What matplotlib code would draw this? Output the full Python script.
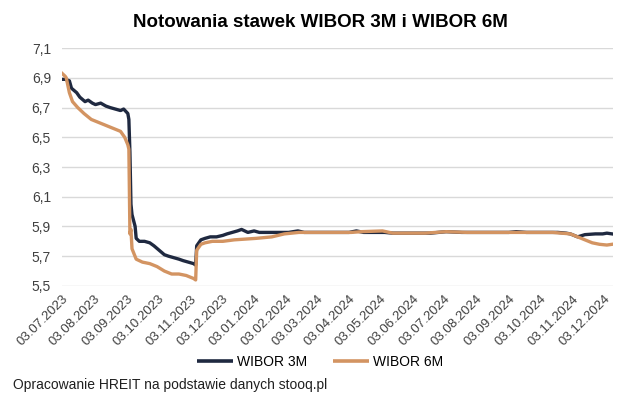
import numpy as np
import pandas as pd
import matplotlib
matplotlib.use('Agg')
import matplotlib.pyplot as plt
from matplotlib.ticker import FuncFormatter

plt.rcParams['font.family'] = ['Liberation Sans', 'DejaVu Sans']

# WIBOR 3M (odczyt z wykresu)
dates_3m = ['2023-07-03','2023-07-06','2023-07-10','2023-07-12','2023-07-17','2023-07-20','2023-07-25',
            '2023-07-28','2023-08-01','2023-08-04','2023-08-09','2023-08-14','2023-08-18','2023-08-23',
            '2023-08-28','2023-08-31','2023-09-04','2023-09-05','2023-09-06','2023-09-07','2023-09-08',
            '2023-09-11','2023-09-12','2023-09-15','2023-09-20','2023-09-25','2023-09-29','2023-10-04',
            '2023-10-09','2023-10-13','2023-10-18','2023-10-23','2023-10-27','2023-11-01','2023-11-06',
            '2023-11-08','2023-11-09','2023-11-13','2023-11-17','2023-11-22','2023-11-28','2023-12-04',
            '2023-12-08','2023-12-13','2023-12-18','2023-12-22','2023-12-28','2024-01-03','2024-01-08',
            '2024-01-15','2024-01-25','2024-02-05','2024-02-14','2024-02-20','2024-03-05','2024-03-20',
            '2024-04-03','2024-04-10','2024-04-17','2024-05-02','2024-05-07','2024-05-15','2024-06-03',
            '2024-06-20','2024-07-05','2024-07-20','2024-08-05','2024-08-20','2024-09-03','2024-09-10',
            '2024-09-20','2024-10-01','2024-10-10','2024-10-20','2024-10-28','2024-11-01','2024-11-08',
            '2024-11-15','2024-11-25','2024-12-02','2024-12-06','2024-12-11']
wibor_3m = [6.89, 6.89, 6.88, 6.83, 6.80, 6.77, 6.74,
            6.75, 6.73, 6.72, 6.73, 6.71, 6.70, 6.69,
            6.68, 6.69, 6.66, 6.62, 6.40, 6.05, 5.98,
            5.90, 5.82, 5.80, 5.80, 5.79, 5.77, 5.74,
            5.71, 5.70, 5.69, 5.68, 5.67, 5.66, 5.65,
            5.64, 5.77, 5.81, 5.82, 5.83, 5.83, 5.84,
            5.85, 5.86, 5.87, 5.88, 5.86, 5.87, 5.86,
            5.86, 5.86, 5.86, 5.87, 5.86, 5.86, 5.86,
            5.86, 5.87, 5.86, 5.86, 5.86, 5.855, 5.855,
            5.855, 5.865, 5.86, 5.86, 5.86, 5.86, 5.865,
            5.86, 5.86, 5.86, 5.86, 5.855, 5.85, 5.83,
            5.845, 5.85, 5.85, 5.855, 5.85]

# WIBOR 6M
dates_6m = ['2023-07-03','2023-07-06','2023-07-07','2023-07-10','2023-07-13','2023-07-18','2023-07-24',
            '2023-07-31','2023-08-07','2023-08-14','2023-08-21','2023-08-28','2023-09-01','2023-09-04',
            '2023-09-05','2023-09-06','2023-09-07','2023-09-08','2023-09-12','2023-09-18','2023-09-25',
            '2023-10-02','2023-10-09','2023-10-16','2023-10-23','2023-10-30','2023-11-06','2023-11-08',
            '2023-11-09','2023-11-13','2023-11-17','2023-11-24','2023-12-04','2023-12-15','2024-01-05',
            '2024-01-20','2024-02-01','2024-02-15','2024-03-15','2024-04-05','2024-04-15','2024-05-05',
            '2024-05-15','2024-06-15','2024-07-05','2024-07-25','2024-08-15','2024-09-15','2024-10-15',
            '2024-11-01','2024-11-08','2024-11-15','2024-11-22','2024-11-29','2024-12-06','2024-12-11']
wibor_6m = [6.93, 6.91, 6.90, 6.80, 6.74, 6.70, 6.66,
            6.62, 6.60, 6.58, 6.56, 6.54, 6.50, 6.45,
            6.42, 5.85, 5.88, 5.75, 5.68, 5.66, 5.65,
            5.63, 5.60, 5.58, 5.58, 5.57, 5.55, 5.54,
            5.74, 5.78, 5.79, 5.80, 5.80, 5.81, 5.82,
            5.83, 5.85, 5.86, 5.86, 5.86, 5.865, 5.87,
            5.855, 5.855, 5.865, 5.86, 5.86, 5.86, 5.86,
            5.85, 5.83, 5.81, 5.79, 5.78, 5.775, 5.78]

tick_dates = pd.date_range('2023-07-01', '2024-12-01', freq='MS') + pd.Timedelta(days=2)

fig = plt.figure(figsize=(6.4, 4.01), dpi=100)
ax = fig.add_axes([0.097, 0.287, 0.861, 0.593])

ax.plot(pd.to_datetime(dates_3m), wibor_3m, color='#1f2940', lw=2.4, label='WIBOR 3M', zorder=3)
ax.plot(pd.to_datetime(dates_6m), wibor_6m, color='#d39462', lw=2.4, label='WIBOR 6M', zorder=4)

ax.set_ylim(5.5, 7.1)
ax.set_yticks(np.arange(5.5, 7.11, 0.2))
ax.yaxis.set_major_formatter(FuncFormatter(lambda v, p: f'{v:.1f}'.replace('.', ',')))
ax.set_xlim(pd.Timestamp('2023-07-03'), pd.Timestamp('2024-12-12'))
ax.set_xticks(tick_dates)
ax.set_xticklabels([d.strftime('%d.%m.%Y') for d in tick_dates], rotation=45, ha='right',
                   rotation_mode='anchor', fontsize=9.5, color='#404040')
ax.tick_params(axis='y', labelsize=10, labelcolor='#404040', length=0, pad=8)
ax.tick_params(axis='x', length=0, pad=5)
ax.grid(axis='y', color='#d9d9d9', lw=1)
for s in ax.spines.values():
    s.set_visible(False)

fig.suptitle('Notowania stawek WIBOR 3M i WIBOR 6M', fontsize=13.5, fontweight='bold', y=0.965)
leg = fig.legend(loc='center', bbox_to_anchor=(0.5, 0.097), ncol=2, frameon=False, fontsize=10,
                 handlelength=2.6, columnspacing=1.8, handletextpad=0.3)
for h in leg.legend_handles:
    h.set_linewidth(2.6)
    h.set_solid_capstyle('butt')
fig.text(0.02, 0.04, 'Opracowanie HREIT na podstawie danych stooq.pl', fontsize=10,
         color='#202020', va='center')

fig.savefig('out.png', dpi=100)
